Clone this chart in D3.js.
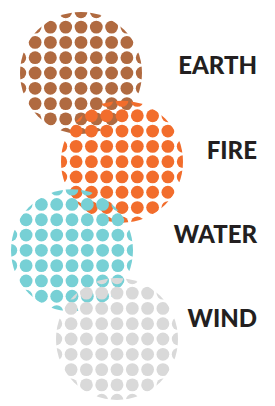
<!DOCTYPE html>
<html>
<head>
<meta charset="utf-8">
<script src="https://cdn.jsdelivr.net/npm/d3@7"></script>
<style>
  html, body { margin: 0; padding: 0; background: #ffffff; }
</style>
</head>
<body>
<div id="chart"></div>
<script>
// Four dotted circles, one per element, stacked top to bottom

// Element names, top to bottom
const categories = ['EARTH', 'FIRE', 'WATER', 'WIND'];

// Horizontal shift of each circle (0 = furthest left)
const shifts = [9, 50, 0, 45];

// Fill colour of each element
const colors = ['#B06A40', '#F26D2C', '#77D0D5', '#D9D9D9'];

(function() {
  const width = 275;
  const height = 406;

  const radius = 61;
  const dotStep = 15.3;
  const dotRadius = 6.4;
  const textColor = '#231F20';

  const svg = d3.select('#chart')
    .append('svg')
    .attr('width', width)
    .attr('height', height);

  // Circle centres
  const xScale = d3.scaleLinear()
    .domain([0, 50])
    .range([72, 122]);

  const yScale = d3.scalePoint()
    .domain(categories)
    .range([73, 339]);

  // Labels sit a bit higher than the circles
  const labelScale = d3.scalePoint()
    .domain(categories)
    .range([68, 321]);

  const data = categories.map((name, i) => ({
    name: name,
    shift: shifts[i],
    color: colors[i]
  }));

  // One clip path per circle so the dot grid is cut at the edge
  const defs = svg.append('defs');

  defs.selectAll('clipPath')
    .data(data)
    .enter()
    .append('clipPath')
    .attr('id', (d, i) => 'clip-' + i)
    .append('circle')
    .attr('cx', d => xScale(d.shift))
    .attr('cy', d => yScale(d.name))
    .attr('r', radius);

  // Grid of dots centred on each circle
  const n = Math.ceil(radius / dotStep) + 1;
  const offsets = d3.range(-n, n + 1).map(k => k * dotStep);

  const groups = svg.selectAll('.element')
    .data(data)
    .enter()
    .append('g')
    .attr('class', 'element')
    .attr('clip-path', (d, i) => `url(#clip-${i})`);

  groups.each(function(d) {
    const cx = xScale(d.shift);
    const cy = yScale(d.name);
    const points = [];
    offsets.forEach(dx => {
      offsets.forEach(dy => {
        if (Math.hypot(dx, dy) < radius + dotRadius) {
          points.push([cx + dx, cy + dy]);
        }
      });
    });

    d3.select(this).selectAll('circle')
      .data(points)
      .enter()
      .append('circle')
      .attr('cx', p => p[0])
      .attr('cy', p => p[1])
      .attr('r', dotRadius)
      .attr('fill', d.color);
  });

  // Element labels on the right
  svg.selectAll('.label')
    .data(data)
    .enter()
    .append('text')
    .attr('class', 'label')
    .attr('x', 257)
    .attr('y', d => labelScale(d.name))
    .attr('text-anchor', 'end')
    .attr('dominant-baseline', 'middle')
    .style('font-family', 'Lato, "Open Sans", sans-serif')
    .style('font-size', '24px')
    .style('font-weight', '900')
    .style('fill', textColor)
    .text(d => d.name);
})();
</script>
</body>
</html>
